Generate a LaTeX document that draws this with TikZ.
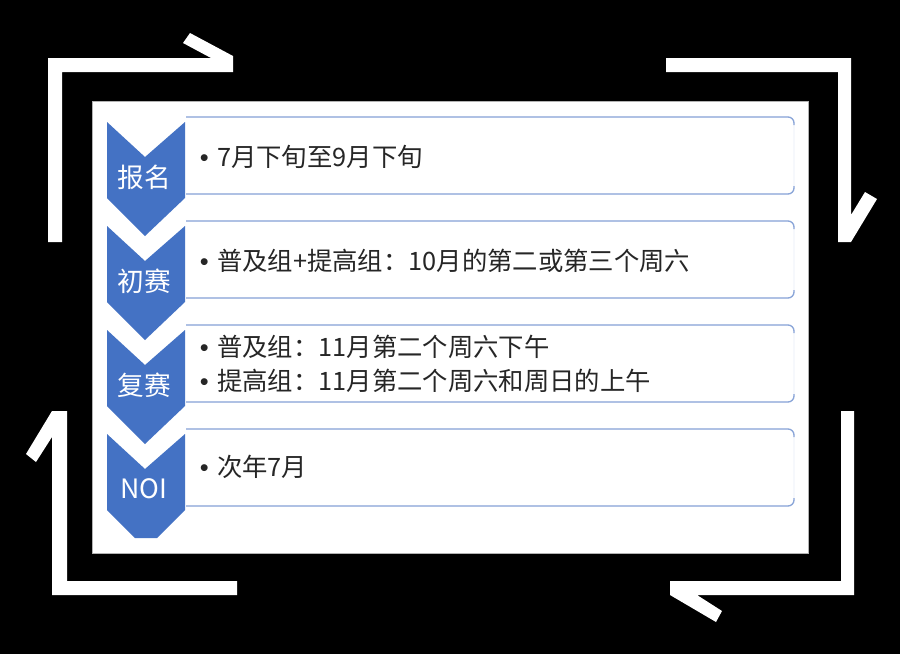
\documentclass[tikz,border=0pt]{standalone}
\usepackage{fontspec}
\setmainfont{Noto Sans CJK SC}
\newfontfamily\bulletfont{Liberation Sans}
\definecolor{chev}{HTML}{4472C4}
\definecolor{boxline}{HTML}{8AA5D8}
\definecolor{txt}{HTML}{262626}
\begin{document}
\begin{tikzpicture}[x=0.75pt,y=-0.75pt,
  bracket/.style={fill=white},
  chevron/.style={fill=chev},
  panel/.style={fill=white, draw=gray!60, line width=0.6pt},
  boxfaint/.style={draw=boxline!20, line width=0.6pt, rounded corners=4.5pt},
  boxedge/.style={draw=boxline, line width=1pt, rounded corners=4.5pt},
  lbl/.style={text=white, font=\fontsize{20}{24}\selectfont, inner sep=0pt},
  body/.style={text=txt, font=\fontsize{19}{23}\selectfont, anchor=west, inner sep=0pt},
  bul/.style={text=txt, font=\bulletfont\fontsize{19}{23}\selectfont, inner sep=0pt, anchor=base, xshift=-9.5pt}]
\fill[black] (0,0) rectangle (900,654);
\useasboundingbox (0,0) rectangle (900,654);
% corner brackets
\fill[bracket] (48,58) -- (211,58) -- (183,43) -- (190,33) -- (233,56) -- (233,72) -- (62,72) -- (62,242) -- (48,242) -- cycle;
\fill[bracket] (666,58) -- (851,58) -- (851,215) -- (865,192) -- (877,199) -- (851,242) -- (838,242) -- (838,72) -- (666,72) -- cycle;
\fill[bracket] (237,595) -- (52,595) -- (52,437) -- (36,462) -- (26,454) -- (52,411) -- (67,411) -- (67,581) -- (237,581) -- cycle;
\fill[bracket] (841,411) -- (854,411) -- (854,595) -- (697,595) -- (722,611) -- (716,622) -- (670,595) -- (670,581) -- (841,581) -- cycle;
% panel
\path[panel] (92,101) rectangle (808,553);
% text boxes
\foreach \k in {0,1,2,3}{
  \pgfmathsetmacro\tp{117+104*\k}
  \pgfmathsetmacro\bt{194+104*\k}
  \draw[boxfaint] (186,\tp) -- (794,\tp) -- (794,\bt) -- (186,\bt);
  \draw[boxedge] (186,\tp) -- (794,\tp) -- (794,\tp+8);
  \draw[boxedge] (186,\bt) -- (794,\bt) -- (794,\bt-8);
}
% chevrons
\foreach \k in {0,1,2}{
  \pgfmathsetmacro\T{122+104*\k}
  \fill[chevron] (107,\T) -- (145,\T+35) -- (185,\T) -- (185,\T+76) -- (145,\T+114) -- (107,\T+76) -- cycle;
}
\fill[chevron] (107,434) -- (145,469) -- (185,434) -- (185,510) -- (157,538) -- (135,538) -- (107,510) -- cycle;
% labels
\node[lbl] (l1) at (144,177) {报名};
\node[lbl] (l2) at (144,281) {初赛};
\node[lbl] (l3) at (144,385) {复赛};
\node[lbl] (l4) at (144,489) {NOI};
% body text
\node[body] (t1) at (217,157) {7月下旬至9月下旬};
\node[bul] (b1) at (t1.base west) {•};
\node[body] (t2) at (217,261) {普及组+提高组：10月的第二或第三个周六};
\node[bul] (b2) at (t2.base west) {•};
\node[body] (t3a) at (217,347) {普及组：11月第二个周六下午};
\node[bul] (b3a) at (t3a.base west) {•};
\node[body] (t3b) at (217,381) {提高组：11月第二个周六和周日的上午};
\node[bul] (b3b) at (t3b.base west) {•};
\node[body] (t4) at (217,467) {次年7月};
\node[bul] (b4) at (t4.base west) {•};
\end{tikzpicture}
\end{document}
